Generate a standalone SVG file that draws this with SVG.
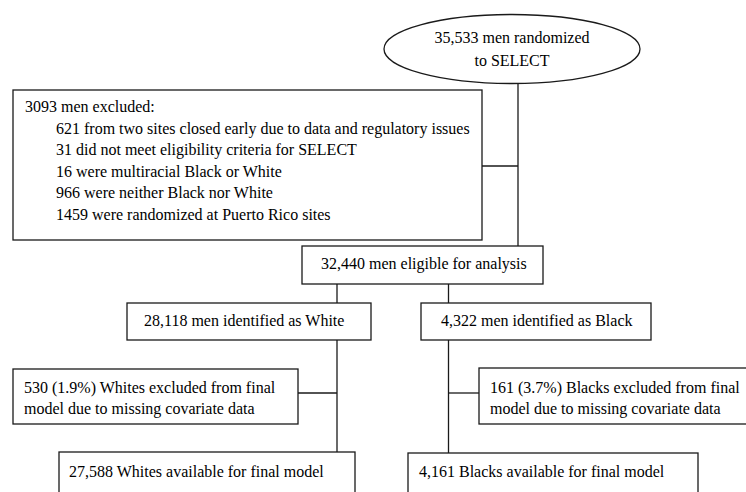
<svg xmlns="http://www.w3.org/2000/svg" width="746" height="492" viewBox="0 0 746 492">
<style>
.box{fill:#fff;stroke:#1a1a1a;stroke-width:1.3}
.ln{fill:none;stroke:#1a1a1a;stroke-width:1.3}
.t text{font-family:'Liberation Serif','Times New Roman',Times,serif;font-size:16px;fill:#000}
.c{text-anchor:middle}
</style>
<rect width="746" height="492" fill="#fff"/>
<g id="connectors">
<line class="ln" x1="518" y1="83" x2="518" y2="246"/>
<line class="ln" x1="482" y1="166" x2="518" y2="166"/>
<line class="ln" x1="337" y1="284" x2="337" y2="303"/>
<line class="ln" x1="448.5" y1="284" x2="448.5" y2="303"/>
<line class="ln" x1="337" y1="340" x2="337" y2="452"/>
<line class="ln" x1="298" y1="393" x2="337" y2="393"/>
<line class="ln" x1="448.5" y1="340" x2="448.5" y2="453"/>
<line class="ln" x1="448.5" y1="393" x2="479" y2="393"/>
</g>
<g class="t" font-family="Liberation Serif, serif">
<g id="randomized">
<ellipse class="box" cx="512" cy="49" rx="128" ry="34.5"/>
<text class="c" x="512" y="43">35,533 men randomized</text>
<text class="c" x="512" y="66">to SELECT</text>
</g>
<g id="excluded">
<rect class="box" x="13" y="90" width="469" height="150"/>
<text x="25" y="112">3093 men excluded:</text>
<text x="56" y="133.5">621 from two sites closed early due to data and regulatory issues</text>
<text x="56" y="155">31 did not meet eligibility criteria for SELECT</text>
<text x="56" y="176.5">16 were multiracial Black or White</text>
<text x="56" y="198">966 were neither Black nor White</text>
<text x="56" y="219.5">1459 were randomized at Puerto Rico sites</text>
</g>
<g id="eligible">
<rect class="box" x="302" y="246" width="241" height="38"/>
<text x="321" y="268.5">32,440 men eligible for analysis</text>
</g>
<g id="white">
<rect class="box" x="127" y="303" width="244" height="37"/>
<text x="144" y="326">28,118 men identified as White</text>
</g>
<g id="black">
<rect class="box" x="421" y="303" width="230" height="37"/>
<text x="441" y="326">4,322 men identified as Black</text>
</g>
<g id="white-excluded">
<rect class="box" x="13" y="369" width="285" height="55"/>
<text x="24" y="392.5">530 (1.9%) Whites excluded from final</text>
<text x="24" y="414">model due to missing covariate data</text>
</g>
<g id="black-excluded">
<rect class="box" x="479" y="368" width="270" height="56"/>
<text x="490" y="392.5">161 (3.7%) Blacks excluded from final</text>
<text x="490" y="414">model due to missing covariate data</text>
</g>
<g id="white-final">
<rect class="box" x="59" y="452" width="296" height="60"/>
<text x="69" y="476.5">27,588 Whites available for final model</text>
</g>
<g id="black-final">
<rect class="box" x="408" y="453" width="290" height="60"/>
<text x="419" y="476.5">4,161 Blacks available for final model</text>
</g>
</g>
</svg>
